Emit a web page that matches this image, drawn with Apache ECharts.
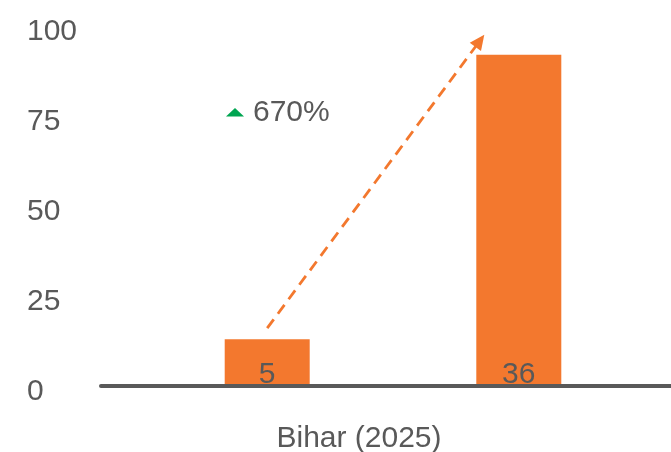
<!DOCTYPE html>
<html>
<head>
<meta charset="utf-8">
<script src="https://cdn.jsdelivr.net/npm/echarts@6/dist/echarts.min.js"></script>
<style>
html,body{margin:0;padding:0;background:#fff;}
#chart{width:671px;height:452px;}
</style>
</head>
<body>
<div id="chart"></div>
<script>
// ---- data ----
const categories = ['Bihar (2025)'];
const barValues = [13, 92];          // bar heights
const barLabels = ['5', '36'];       // labels printed inside the bars
const changeLabel = '670%';
const yTickValues = [0, 25, 50, 75, 100];

// ---- style ----
const FONT = 'Liberation Sans, Arial, Helvetica, sans-serif';
const TEXT = '#595959';
const ORANGE = '#F3782E';
const GREEN = '#00A551';
const FS = 30;

const chart = echarts.init(document.getElementById('chart'), null, {renderer: 'canvas'});

const makeSeries = (i) => ({
  type: 'bar',
  xAxisIndex: 0,
  yAxisIndex: 0,
  data: [barValues[i]],
  barWidth: 85,
  barGap: '196%',
  itemStyle: {color: ORANGE},
  label: {
    show: true,
    position: 'insideBottom',
    distance: -4,
    formatter: () => barLabels[i],
    color: TEXT,
    fontSize: FS,
    fontFamily: FONT
  },
  z: 2
});

chart.setOption({
  animation: false,
  backgroundColor: '#fff',
  grid: [
    {left: 115, right: 0, top: 26, bottom: 66, containLabel: false, outerBoundsMode: 'none'},
    {left: 101, right: 0, top: 26, bottom: 66, containLabel: false, outerBoundsMode: 'none'}
  ],
  xAxis: [
    {
      type: 'category',
      gridIndex: 0,
      data: categories,
      axisLine: {show: false},
      axisTick: {show: false},
      axisLabel: {
        color: TEXT, fontSize: FS, fontFamily: FONT,
        margin: 38, padding: [0, 68, 0, 0]
      }
    },
    {
      type: 'category',
      gridIndex: 1,
      data: categories,
      axisLine: {show: true, lineStyle: {color: TEXT, width: 4}},
      axisTick: {show: false},
      axisLabel: {show: false},
      z: 5
    }
  ],
  yAxis: [
    {
      type: 'value',
      gridIndex: 0,
      min: yTickValues[0],
      max: yTickValues[yTickValues.length - 1],
      interval: yTickValues[1] - yTickValues[0],
      axisLine: {show: false},
      axisTick: {show: false},
      splitLine: {show: false},
      axisLabel: {
        color: TEXT, fontSize: FS, fontFamily: FONT,
        align: 'left', verticalAlign: 'top', lineHeight: 12, margin: 88
      }
    },
    {
      type: 'value',
      gridIndex: 1,
      min: yTickValues[0],
      max: yTickValues[yTickValues.length - 1],
      interval: yTickValues[1] - yTickValues[0],
      show: false
    }
  ],
  series: [makeSeries(0), makeSeries(1)]
});

// ---- annotation arrow, anchored to bar layouts ----
function barLayout(i) {
  const l = chart.getModel().getSeriesByIndex(i).getData().getItemLayout(0);
  const top = Math.min(l.y, l.y + l.height);
  const left = Math.min(l.x, l.x + l.width);
  return {left, top, width: Math.abs(l.width), cx: left + Math.abs(l.width) / 2};
}
const b0 = barLayout(0), b1 = barLayout(1);
const sx = b0.cx, sy = b0.top - 11;
const tx = b1.left + 8, ty = b1.top - 20;
const dx = tx - sx, dy = ty - sy, len = Math.hypot(dx, dy);
const ux = dx / len, uy = dy / len, nx = -uy, ny = ux;
const headL = 15, headW = 7;
const bx = tx - ux * headL, by = ty - uy * headL;

chart.setOption({
  graphic: [
    {
      type: 'line', silent: true, z: 10,
      shape: {x1: sx, y1: sy, x2: bx + ux * 2, y2: by + uy * 2},
      style: {stroke: ORANGE, lineWidth: 2.8, lineDash: [11, 7]}
    },
    {
      type: 'polygon', silent: true, z: 10,
      shape: {points: [[tx, ty], [bx + nx * headW, by + ny * headW], [bx - nx * headW, by - ny * headW]]},
      style: {fill: ORANGE}
    },
    {
      type: 'polygon', silent: true, z: 10,
      shape: {points: [[226, 116.5], [244, 116.5], [235, 108]]},
      style: {fill: GREEN}
    },
    {
      type: 'text', silent: true, z: 10,
      style: {x: 253, y: 113, text: changeLabel, fill: TEXT, font: FS + 'px ' + FONT, verticalAlign: 'middle', align: 'left'}
    }
  ]
});
</script>
</body>
</html>
